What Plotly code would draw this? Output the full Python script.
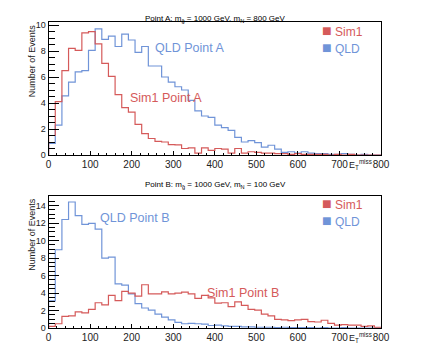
import numpy as np
import plotly.graph_objects as go
from plotly.subplots import make_subplots

# 50 bins of 16 GeV from 0 to 800 GeV
bin_edges = np.arange(0, 801, 16)

sim1_a = [1.5, 4.1, 6.5, 8.2, 8.05, 9.4, 9.5, 8.55, 7.05, 6.05,
          4.65, 3.65, 3.3, 2.35, 1.65, 1.27, 1.05, 1.0, 0.8, 0.78,
          0.5, 0.55, 0.15, 0.55, 0.35, 0.5, 0.45, 0.15, 0.5, 0.15,
          0.25, 0.2, 0.15, 0.15, 0.1, 0.1, 0.05, 0.1, 0.05, 0.05,
          0.05, 0.05, 0.0, 0.05, 0.0, 0.05, 0.0, 0.0, 0.0, 0.0]
qld_a = [0.9, 2.3, 4.55, 5.6, 6.4, 6.5, 8.05, 9.7, 8.9, 9.15,
         8.35, 9.3, 8.85, 7.9, 8.35, 6.85, 6.85, 6.0, 5.6, 5.25,
         5.0, 4.2, 3.4, 3.0, 2.9, 2.3, 2.1, 1.9, 1.35, 1.0,
         1.1, 0.95, 0.6, 0.75, 0.45, 0.2, 0.25, 0.15, 0.25, 0.15,
         0.1, 0.1, 0.05, 0.05, 0.1, 0.05, 0.0, 0.05, 0.0, 0.0]
sim1_b = [0.2, 0.5, 1.35, 1.4, 1.85, 1.75, 2.15, 2.9, 2.65, 3.75,
          3.15, 4.2, 4.0, 3.65, 4.95, 3.9, 3.9, 4.15, 3.9, 4.0,
          4.1, 3.9, 3.4, 3.75, 3.45, 2.85, 2.9, 2.45, 3.0, 2.6,
          2.15, 2.05, 1.6, 1.4, 1.0, 0.95, 0.85, 0.95, 1.0, 0.75,
          0.7, 0.9, 0.55, 0.35, 0.4, 0.35, 0.35, 0.2, 0.25, 0.1]
qld_b = [3.1, 8.95, 12.4, 14.4, 12.85, 11.85, 11.95, 11.3, 8.0, 8.1,
         5.05, 4.9, 3.9, 2.8, 2.3, 2.05, 1.6, 1.25, 0.95, 0.65,
         0.5, 0.55, 0.5, 0.45, 0.3, 0.35, 0.25, 0.2, 0.2, 0.15,
         0.15, 0.1, 0.1, 0.1, 0.05, 0.1, 0.05, 0.05, 0.05, 0.05,
         0.0, 0.05, 0.0, 0.0, 0.05, 0.0, 0.0, 0.0, 0.0, 0.0]

x_ticks = [0, 100, 200, 300, 400, 500, 600, 700, 800]

RED = "#d55a5a"
BLUE = "#7094d8"
FONT = "Liberation Sans, Arial, sans-serif"

# the page body has an 8px margin, so the figure is a bit smaller and
# every pixel position below (measured on the screenshot) is shifted by it
OFF = 8
W, H = 436 - OFF, 354 - OFF
X0, X1 = 46.7, 388.7
PANELS = [(20.7, 156.0), (197.7, 332.7)]  # top/bottom pixel rows of each frame


def px_x(p):
    return (p - OFF) / W


def px_y(p):
    return 1 - (p - OFF) / H


def step(values):
    xs = np.concatenate([[bin_edges[0]], bin_edges])
    ys = np.concatenate([[0], values, [values[-1]]])
    return xs, ys


fig = make_subplots(rows=2, cols=1)

for row, (sim, qld) in enumerate([(sim1_a, qld_a), (sim1_b, qld_b)], start=1):
    for vals, col in [(qld, BLUE), (sim, RED)]:
        xs, ys = step(vals)
        fig.add_trace(go.Scatter(x=xs, y=ys, mode="lines", line_shape="hv",
                                 line=dict(color=col, width=1.2),
                                 showlegend=False, hoverinfo="skip"),
                      row=row, col=1)

axis_common = dict(showline=True, linecolor="black", linewidth=1, mirror=True,
                   ticks="inside", tickcolor="black", showgrid=False, zeroline=False,
                   tickfont=dict(family=FONT, size=9, color="#222"))

for row, (top, bot) in enumerate(PANELS, start=1):
    fig.update_xaxes(axis_common, row=row, col=1, range=[0, 800],
                     domain=[px_x(X0), px_x(X1)], tickvals=x_ticks, ticklen=4,
                     minor=dict(ticks="inside", ticklen=2.5, dtick=20, tickcolor="black"),
                     tickfont=dict(size=10))
    fig.update_yaxes(axis_common, row=row, col=1, ticklen=10,
                     domain=[px_y(bot), px_y(top)],
                     minor=dict(ticks="inside", ticklen=6, dtick=0.5, tickcolor="black"))

fig.update_yaxes(range=[0, 10.2], dtick=2, row=1, col=1)
fig.update_yaxes(range=[0, 15.1], dtick=2, row=2, col=1)

ann = []
titles = ["Point A: m<sub>g̃</sub> = 1000 GeV, m<sub>N</sub> = 800 GeV",
          "Point B: m<sub>g̃</sub> = 1000 GeV, m<sub>N</sub> = 100 GeV"]
labels = [[("QLD Point A", 154, 47, BLUE), ("Sim1 Point A", 128, 98, RED)],
          [("QLD Point B", 98, 220, BLUE), ("Sim1 Point B", 208, 297, RED)]]
legend_y = [(29, 46), (206, 223)]

for i, (top, bot) in enumerate(PANELS):
    ann.append(dict(text=titles[i], x=px_x(218), y=px_y(top - 11), xref="paper", yref="paper",
                    showarrow=False, font=dict(family=FONT, size=8, color="black")))
    ann.append(dict(text="Number of Events", textangle=-90, x=px_x(30), y=px_y(top),
                    xref="paper", yref="paper", xanchor="center", yanchor="top",
                    showarrow=False, font=dict(family=FONT, size=9, color="#222")))
    ann.append(dict(text="E<sub>T</sub><sup>miss</sup>", x=px_x(381), y=px_y(bot + 10),
                    xref="paper", yref="paper", xanchor="right", yanchor="middle",
                    showarrow=False, font=dict(family=FONT, size=9, color="#222")))
    for txt, lx, ly, col in labels[i]:
        ann.append(dict(text=txt, x=px_x(lx), y=px_y(ly), xref="paper", yref="paper",
                        xanchor="left", yanchor="middle", showarrow=False,
                        font=dict(family=FONT, size=12.5, color=col)))
    for (name, col), ly in zip([("Sim1", RED), ("QLD", BLUE)], legend_y[i]):
        ann.append(dict(text=f"<span style='font-size:16px'>■</span> {name}",
                        x=px_x(326), y=px_y(ly), xref="paper", yref="paper",
                        xanchor="left", yanchor="middle", showarrow=False,
                        font=dict(family=FONT, size=12, color=col)))

fig.update_layout(width=W, height=H, margin=dict(l=0, r=0, t=0, b=0),
                  plot_bgcolor="white", paper_bgcolor="white",
                  showlegend=False, annotations=ann)

fig.write_html("out.html")
